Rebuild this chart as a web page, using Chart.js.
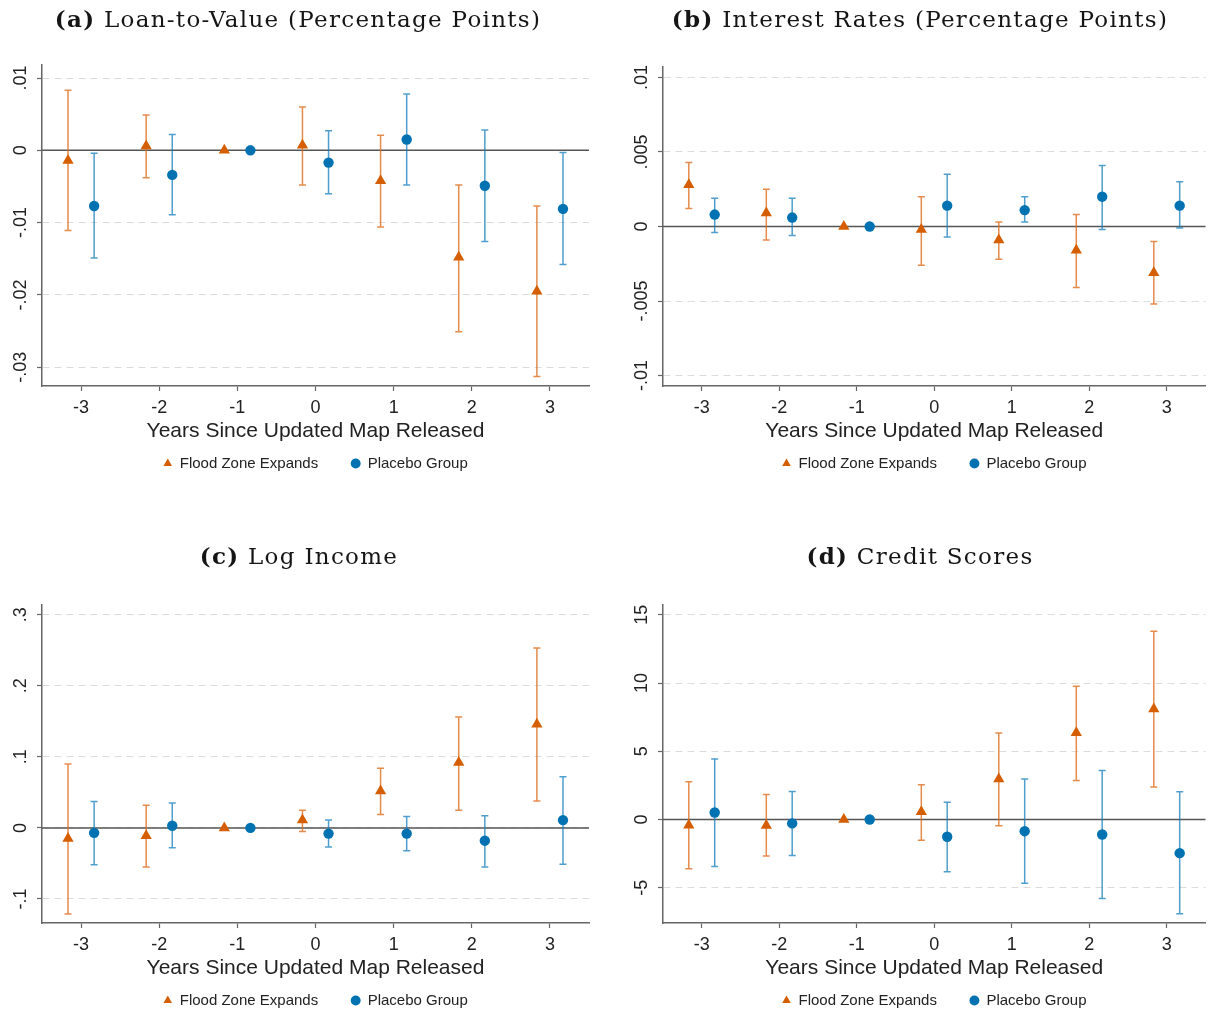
<!DOCTYPE html>
<html>
<head>
<meta charset="utf-8">
<script src="https://cdn.jsdelivr.net/npm/chart.js@4.4.1/dist/chart.umd.min.js"></script>
<style>
  body { margin: 0; width: 1212px; height: 1013px; overflow: hidden; background: #fff; position: relative; }
  .panel { position: absolute; }
  .title { position: absolute; font-family: "DejaVu Serif", serif; font-size: 23px; letter-spacing: 1.3px; color: #151515;
           white-space: nowrap; transform: translate(-50%, -50%); z-index: 2; }
</style>
</head>
<body>
<div class="title" style="left:298px;top:18px"><b>(a)</b> Loan-to-Value (Percentage Points)</div>
<div class="title" style="left:920px;top:18px"><b>(b)</b> Interest Rates (Percentage Points)</div>
<div class="title" style="left:299px;top:555px"><b>(c)</b> Log Income</div>
<div class="title" style="left:920px;top:555px"><b>(d)</b> Credit Scores</div>

<div class="panel" style="left:0;top:0;width:606px;height:481px"><canvas id="chartA"></canvas></div>
<div class="panel" style="left:621px;top:0;width:591px;height:481px"><canvas id="chartB"></canvas></div>
<div class="panel" style="left:0;top:537px;width:606px;height:481px"><canvas id="chartC"></canvas></div>
<div class="panel" style="left:621px;top:537px;width:591px;height:481px"><canvas id="chartD"></canvas></div>

<script>
var years = [-3, -2, -1, 0, 1, 2, 3];

// (a) loan-to-value
var ltvFlood     = [-0.0014, 0.0006, 0, 0.0007, -0.0042, -0.0148, -0.0195];
var ltvFloodLo   = [-0.0111, -0.0038, 0, -0.0048, -0.0106, -0.0251, -0.0313];
var ltvFloodHi   = [0.0083, 0.0049, 0, 0.0060, 0.0021, -0.0048, -0.0077];
var ltvPlacebo   = [-0.0077, -0.0034, 0, -0.0017, 0.0015, -0.0049, -0.0081];
var ltvPlaceboLo = [-0.0149, -0.0089, 0, -0.0060, -0.0048, -0.0126, -0.0158];
var ltvPlaceboHi = [-0.0004, 0.0022, 0, 0.0027, 0.0078, 0.0028, -0.0003];
var ltvTicks  = [-0.03, -0.02, -0.01, 0, 0.01];
var ltvLabels = ["-.03", "-.02", "-.01", "0", ".01"];

// (b) interest rates
var rateFlood     = [0.0028, 0.0009, 0, -0.0002, -0.0009, -0.0016, -0.0031];
var rateFloodLo   = [0.0012, -0.0009, 0, -0.0026, -0.0022, -0.0041, -0.0052];
var rateFloodHi   = [0.0043, 0.0025, 0, 0.0020, 0.0003, 0.0008, -0.0010];
var ratePlacebo   = [0.0008, 0.0006, 0, 0.0014, 0.0011, 0.0020, 0.0014];
var ratePlaceboLo = [-0.0004, -0.0006, 0, -0.0007, 0.0003, -0.0002, -0.0001];
var ratePlaceboHi = [0.0019, 0.0019, 0, 0.0035, 0.0020, 0.0041, 0.0030];
var rateTicks  = [-0.01, -0.005, 0, 0.005, 0.01];
var rateLabels = ["-.01", "-.005", "0", ".005", ".01"];

// (c) log income
var incFlood     = [-0.015, -0.011, 0, 0.011, 0.052, 0.092, 0.146];
var incFloodLo   = [-0.121, -0.055, 0, -0.005, 0.019, 0.025, 0.038];
var incFloodHi   = [0.090, 0.032, 0, 0.025, 0.084, 0.156, 0.253];
var incPlacebo   = [-0.007, 0.003, 0, -0.008, -0.008, -0.018, 0.011];
var incPlaceboLo = [-0.052, -0.028, 0, -0.027, -0.032, -0.055, -0.051];
var incPlaceboHi = [0.037, 0.035, 0, 0.011, 0.016, 0.017, 0.072];
var incTicks  = [-0.1, 0, 0.1, 0.2, 0.3];
var incLabels = ["-.1", "0", ".1", ".2", ".3"];

// (d) credit scores
var credFlood     = [-0.42, -0.44, 0, 0.56, 2.96, 6.36, 8.09];
var credFloodLo   = [-3.62, -2.67, 0, -1.52, -0.46, 2.86, 2.37];
var credFloodHi   = [2.76, 1.83, 0, 2.54, 6.33, 9.76, 13.79];
var credPlacebo   = [0.51, -0.29, 0, -1.27, -0.86, -1.10, -2.47];
var credPlaceboLo = [-3.45, -2.64, 0, -3.84, -4.67, -5.79, -6.92];
var credPlaceboHi = [4.43, 2.05, 0, 1.27, 2.96, 3.59, 2.03];
var credTicks  = [-5, 0, 5, 10, 15];
var credLabels = ["-5", "0", "5", "10", "15"];

var orange = "#d55e00", orangeBar = "rgba(222,110,30,0.8)";
var blue = "#0072b2", blueBar = "rgba(20,125,190,0.75)";
var shift = 0.167;
var sans = '"Liberation Sans", Arial, sans-serif';

Chart.defaults.font.family = sans;
Chart.defaults.color = "#222";

// confidence intervals and zero line, drawn under the markers
var errorBars = {
  id: "errorBars",
  beforeDatasetsDraw: function(chart) {
    var ctx = chart.ctx, ys = chart.scales.y, area = chart.chartArea;
    var y0 = ys.getPixelForValue(0);
    ctx.save();
    ctx.strokeStyle = "#555";
    ctx.lineWidth = 1.5;
    ctx.beginPath();
    ctx.moveTo(area.left, y0);
    ctx.lineTo(area.right, y0);
    ctx.stroke();
    chart.data.datasets.forEach(function(ds, d) {
      var meta = chart.getDatasetMeta(d);
      ctx.strokeStyle = ds.barColor;
      ctx.lineWidth = 1.5;
      meta.data.forEach(function(pt, i) {
        if (ds.lo[i] === ds.hi[i]) return;
        var yl = ys.getPixelForValue(ds.lo[i]);
        var yh = ys.getPixelForValue(ds.hi[i]);
        ctx.beginPath();
        ctx.moveTo(pt.x, yl); ctx.lineTo(pt.x, yh);
        ctx.moveTo(pt.x - 3.5, yl); ctx.lineTo(pt.x + 3.5, yl);
        ctx.moveTo(pt.x - 3.5, yh); ctx.lineTo(pt.x + 3.5, yh);
        ctx.stroke();
      });
    });
    ctx.restore();
  }
};

// vertical y tick labels (stata style)
var yLabels = {
  id: "yLabels",
  afterDraw: function(chart, args, opts) {
    var ctx = chart.ctx, s = chart.scales.y;
    ctx.save();
    ctx.font = "18px " + sans;
    ctx.fillStyle = "#222";
    ctx.textAlign = "center";
    ctx.textBaseline = "middle";
    s.ticks.forEach(function(t, i) {
      ctx.save();
      ctx.translate(s.right - 21, s.getPixelForValue(t.value));
      ctx.rotate(-Math.PI / 2);
      ctx.fillText(opts.labels[i], 0, 0);
      ctx.restore();
    });
    ctx.restore();
  }
};

function points(vals, dx) {
  return years.map(function(yr, i) { return { x: yr + dx, y: vals[i] }; });
}

function makeChart(id, c) {
  new Chart(document.getElementById(id), {
    type: "scatter",
    data: {
      datasets: [{
        label: "Flood Zone Expands",
        data: points(c.flood, -shift),
        lo: c.floodLo, hi: c.floodHi, barColor: orangeBar,
        pointStyle: "triangle", pointRadius: 6.5, pointHoverRadius: 6.5,
        backgroundColor: orange, borderColor: orange, borderWidth: 0
      }, {
        label: "Placebo Group",
        data: points(c.placebo, shift),
        lo: c.placeboLo, hi: c.placeboHi, barColor: blueBar,
        pointStyle: "circle", pointRadius: 5.2, pointHoverRadius: 5.2,
        backgroundColor: blue, borderColor: blue, borderWidth: 0
      }]
    },
    options: {
      responsive: true,
      maintainAspectRatio: false,
      animation: false,
      devicePixelRatio: 1,
      layout: { padding: { top: c.top, right: c.right, left: 0, bottom: 0 } },
      plugins: {
        tooltip: { enabled: false },
        yLabels: { labels: c.labels },
        legend: {
          position: "bottom",
          fullSize: false,
          labels: {
            usePointStyle: true, boxWidth: 9, boxHeight: 7, padding: 33,
            color: "#222", font: { size: 15 }
          }
        }
      },
      scales: {
        x: {
          type: "linear", min: -3.5, max: 3.5,
          afterBuildTicks: function(s) { s.ticks = years.map(function(v) { return { value: v }; }); },
          afterFit: function(s) { s.height = 37; },
          ticks: { color: "#222", font: { size: 18 }, padding: 6, maxRotation: 0 },
          grid: { drawOnChartArea: false, drawTicks: true, tickLength: 5, tickColor: "#666", tickWidth: 1.2 },
          border: { color: "#666", width: 1.5 },
          title: {
            display: true, text: "Years Since Updated Map Released",
            color: "#222", font: { size: 21 }, padding: { top: 0, bottom: -21 }
          }
        },
        y: {
          min: c.min, max: c.max,
          afterBuildTicks: function(s) { s.ticks = c.ticks.map(function(v) { return { value: v }; }); },
          afterFit: function(s) { s.width = 42; },
          ticks: { display: false },
          grid: { color: "#dcdcdc", lineWidth: 1, drawTicks: true, tickLength: 5,
                  tickColor: "#666", tickWidth: 1.2, tickBorderDash: [] },
          border: { color: "#666", width: 1.5, dash: [7, 5] }
        }
      }
    },
    plugins: [errorBars, yLabels]
  });
}

makeChart("chartA", {
  flood: ltvFlood, floodLo: ltvFloodLo, floodHi: ltvFloodHi,
  placebo: ltvPlacebo, placeboLo: ltvPlaceboLo, placeboHi: ltvPlaceboHi,
  ticks: ltvTicks, labels: ltvLabels, min: -0.0326, max: 0.0118, top: 65, right: 17
});
makeChart("chartB", {
  flood: rateFlood, floodLo: rateFloodLo, floodHi: rateFloodHi,
  placebo: ratePlacebo, placeboLo: ratePlaceboLo, placeboHi: ratePlaceboHi,
  ticks: rateTicks, labels: rateLabels, min: -0.0107, max: 0.0107, top: 67, right: 1
});
makeChart("chartC", {
  flood: incFlood, floodLo: incFloodLo, floodHi: incFloodHi,
  placebo: incPlacebo, placeboLo: incPlaceboLo, placeboHi: incPlaceboHi,
  ticks: incTicks, labels: incLabels, min: -0.1338, max: 0.3136, top: 68, right: 17
});
makeChart("chartD", {
  flood: credFlood, floodLo: credFloodLo, floodHi: credFloodHi,
  placebo: credPlacebo, placeboLo: credPlaceboLo, placeboHi: credPlaceboHi,
  ticks: credTicks, labels: credLabels, min: -7.59, max: 15.72, top: 68, right: 1
});
</script>
</body>
</html>
